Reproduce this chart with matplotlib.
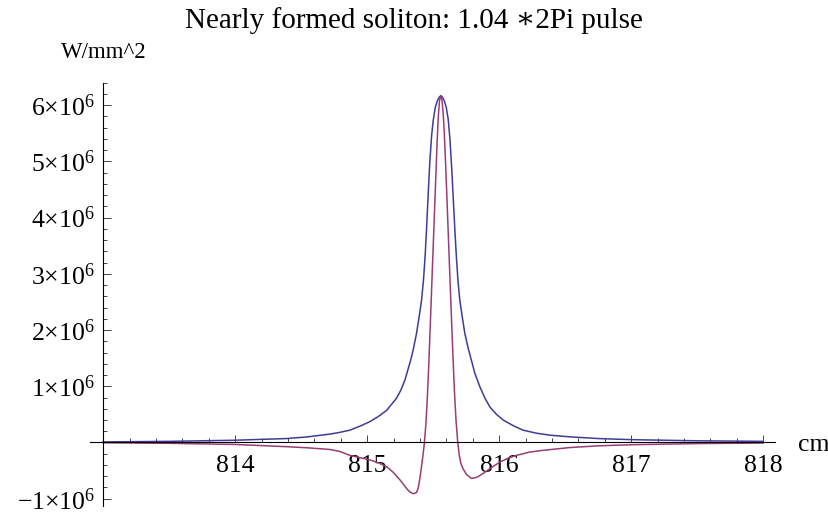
import matplotlib
matplotlib.use("Agg")
import matplotlib.pyplot as plt
from matplotlib.ticker import FixedLocator, FuncFormatter

plt.rcParams['font.family'] = ['Liberation Serif', 'DejaVu Serif']
plt.rcParams['mathtext.fontset'] = 'custom'
plt.rcParams['mathtext.rm'] = 'Liberation Serif'
plt.rcParams['mathtext.it'] = 'Liberation Serif:italic'

# Pulse intensity (10^6 W/mm^2) versus position (cm)
intensity_x = [813.0, 813.5, 814.0, 814.39, 814.55, 814.72, 814.793, 814.87, 814.945,
               815.02, 815.083, 815.147, 815.185, 815.223, 815.255, 815.286, 815.308,
               815.329, 815.348, 815.374, 815.394, 815.412, 815.427, 815.44, 815.452,
               815.463, 815.475, 815.488, 815.50, 815.515, 815.53, 815.545, 815.558,
               815.571, 815.586, 815.60, 815.614, 815.627, 815.64, 815.652, 815.664,
               815.676, 815.688, 815.702, 815.72, 815.74, 815.765, 815.79, 815.816,
               815.854, 815.892, 815.93, 815.98, 816.03, 816.106, 816.18, 816.283,
               816.384, 816.536, 816.75, 817.0, 817.5, 818.0]
intensity_y = [0.01, 0.02, 0.04, 0.07, 0.10, 0.15, 0.18, 0.22, 0.29,
               0.37, 0.46, 0.57, 0.68, 0.79, 0.93, 1.11, 1.29,
               1.46, 1.64, 1.94, 2.24, 2.53, 2.90, 3.35, 3.90,
               4.45, 5.00, 5.45, 5.72, 5.95, 6.07, 6.14, 6.17,
               6.14, 6.07, 5.95, 5.75, 5.40, 4.90, 4.35, 3.80,
               3.30, 2.88, 2.53, 2.24, 1.94, 1.68, 1.46, 1.23,
               0.99, 0.79, 0.63, 0.50, 0.40, 0.30, 0.22, 0.165,
               0.13, 0.10, 0.07, 0.05, 0.03, 0.02]

# Second component of the pulse (10^6 W/mm^2)
field_x = [813.0, 813.5, 814.0, 814.39, 814.55, 814.72, 814.793, 814.87, 814.945,
           815.02, 815.083, 815.147, 815.197, 815.25, 815.286, 815.31, 815.336,
           815.354, 815.374, 815.386, 815.398, 815.41, 815.422, 815.433, 815.444,
           815.455, 815.467, 815.48, 815.495, 815.51, 815.522, 815.531, 815.539,
           815.548, 815.558, 815.567, 815.576, 815.585, 815.595, 815.607, 815.62,
           815.634, 815.648, 815.661, 815.673, 815.685, 815.697, 815.711, 815.727,
           815.753, 815.79, 815.83, 815.88, 815.942, 816.005, 816.068, 816.13,
           816.233, 816.333, 816.536, 816.75, 817.0, 817.5, 818.0]
field_y = [-0.005, -0.015, -0.035, -0.075, -0.095, -0.125, -0.16, -0.23, -0.27,
           -0.31, -0.36, -0.43, -0.53, -0.67, -0.78, -0.85, -0.90,
           -0.91, -0.89, -0.82, -0.66, -0.46, -0.24, -0.02, 0.30,
           0.75, 1.40, 2.20, 3.15, 4.10, 4.85, 5.40, 5.80,
           6.08, 6.17, 6.09, 5.85, 5.47, 4.92, 4.18, 3.37,
           2.50, 1.65, 0.92, 0.40, 0.04, -0.22, -0.38, -0.47,
           -0.57, -0.64, -0.62, -0.55, -0.445, -0.35, -0.28, -0.23,
           -0.17, -0.14, -0.09, -0.06, -0.04, -0.02, -0.01]

x_major = [814, 815, 816, 817, 818]
y_major = [-1, 1, 2, 3, 4, 5, 6]
scale = 1e6

fig = plt.figure(figsize=(8.29, 5.16), dpi=100)
ax = fig.add_axes([90 / 829, 10 / 516, 685 / 829, 423.3 / 516])

ax.plot(intensity_x, [v * scale for v in intensity_y], color='#3d3d99', lw=1.1,
        solid_joinstyle='round')
ax.plot(field_x, [v * scale for v in field_y], color='#993d74', lw=1.1,
        solid_joinstyle='round')

ax.set_xlim(812.9, 818.09)
ax.set_ylim(-1.13e6, 6.40e6)

for side in ('top', 'right'):
    ax.spines[side].set_visible(False)
ax.spines['left'].set_position(('data', 813))
ax.spines['bottom'].set_position(('data', 0))
for side in ('left', 'bottom'):
    ax.spines[side].set_linewidth(0.8)
    ax.spines[side].set_color('black')

ax.xaxis.set_major_locator(FixedLocator(x_major))
ax.xaxis.set_minor_locator(FixedLocator([813 + 0.2 * i for i in range(1, 26)]))
ax.yaxis.set_major_locator(FixedLocator([v * scale for v in y_major]))
ax.yaxis.set_minor_locator(FixedLocator([k * 0.2e6 for k in range(-5, 33) if k % 5 != 0]))

ax.xaxis.set_major_formatter(FuncFormatter(lambda v, p: f"{int(round(v))}"))


def sci_label(v, p):
    m = int(round(v / scale))
    sign = '\u2212' if m < 0 else ''
    return f"{sign}{abs(m)}\u00d710" + r"$^{\mathregular{6}}$"


ax.yaxis.set_major_formatter(FuncFormatter(sci_label))

ax.tick_params(axis='both', which='both', direction='in', color='#444444', width=0.7)
ax.tick_params(axis='both', which='major', length=5.4, labelsize=18.5)
ax.tick_params(axis='both', which='minor', length=2.9)
ax.tick_params(axis='x', which='major', pad=9)
ax.tick_params(axis='y', which='major', pad=6)

fig.text(414 / 829, 1 - 21 / 516, 'Nearly formed soliton: 1.04 \u22172Pi pulse',
         ha='center', va='center', fontsize=21)
fig.text(104 / 829, 1 - 52 / 516, 'W/mm^2', ha='center', va='center', fontsize=16.5)
fig.text(798 / 829, 1 - 445 / 516, 'cm', ha='left', va='center', fontsize=18.5)

fig.savefig('out.png', dpi=100)
